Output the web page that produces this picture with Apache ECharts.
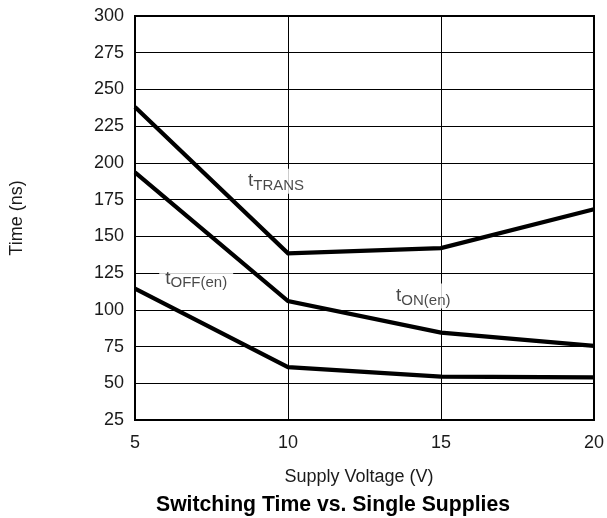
<!DOCTYPE html>
<html>
<head>
<meta charset="utf-8">
<script src="https://cdn.jsdelivr.net/npm/echarts@6/dist/echarts.min.js"></script>
<style>
html,body{margin:0;padding:0;background:#fff;}
#chart{width:607px;height:518px;}
</style>
</head>
<body>
<div id="chart"></div>
<script>
// Supply voltage (V)
var voltages = [5, 10, 15, 20];
// Switching times (ns)
var tTrans = [238, 138.5, 142, 168.5];
var tOnEn = [193.5, 106, 84.5, 75.5];
var tOffEn = [114.5, 61, 54.5, 54];
// Axis ranges
var yMin = 25, yMax = 300, yStep = 25;
var xMin = 5, xMax = 20, xStep = 5;
// Curve labels: [x, y] in data units
var labelNames = ['TRANS', 'OFF(en)', 'ON(en)'];
var labelPos = [[9.61, 187.6], [7.0, 121.3], [14.42, 109.4]];

var FONT = '"Liberation Sans", Arial, Helvetica, sans-serif';
var TXT = '#1a1a1a';

function pairs(ys) {
  return voltages.map(function (v, i) { return [v, ys[i]]; });
}

function lineSeries(name, ys) {
  return {
    name: name,
    type: 'line',
    data: pairs(ys),
    showSymbol: false,
    symbol: 'none',
    lineStyle: { color: '#000', width: 4.2, join: 'miter' },
    z: 3,
    silent: true
  };
}

var chart = echarts.init(document.getElementById('chart'), null, { renderer: 'canvas' });

chart.setOption({
  animation: false,
  backgroundColor: '#fff',
  title: {
    text: 'Switching Time vs. Single Supplies',
    left: 151,
    top: 490,
    textStyle: { fontFamily: FONT, fontSize: 21.2, fontWeight: 'bold', color: '#000' }
  },
  grid: {
    left: 133, right: 10, top: 16, bottom: 98,
    show: true, borderColor: '#000', borderWidth: 2, backgroundColor: 'transparent'
  },
  xAxis: {
    type: 'value',
    min: xMin, max: xMax, interval: xStep,
    name: 'Supply Voltage (V)',
    nameLocation: 'middle',
    nameGap: 48,
    nameTextStyle: { fontFamily: FONT, fontSize: 18, color: TXT, padding: [0, 11, 0, 0] },
    axisLine: { show: false },
    axisTick: { show: false },
    axisLabel: { fontFamily: FONT, fontSize: 18, color: TXT, margin: 14 },
    splitLine: { show: true, lineStyle: { color: '#000', width: 1 } }
  },
  yAxis: {
    type: 'value',
    min: yMin, max: yMax, interval: yStep,
    name: 'Time (ns)',
    nameLocation: 'middle',
    nameGap: 109,
    nameTextStyle: { fontFamily: FONT, fontSize: 18, color: TXT },
    axisLine: { show: false },
    axisTick: { show: false },
    axisLabel: { fontFamily: FONT, fontSize: 18, color: TXT, margin: 11 },
    splitLine: { show: true, lineStyle: { color: '#000', width: 1 } }
  },
  series: [
    lineSeries('tTRANS', tTrans),
    lineSeries('tON(en)', tOnEn),
    lineSeries('tOFF(en)', tOffEn),
    {
      name: 'labels',
      type: 'scatter',
      symbolSize: 0,
      silent: true,
      z: 5,
      data: labelPos.map(function (p, i) { return { value: p, sub: labelNames[i] }; }),
      label: {
        show: true,
        position: 'inside',
        backgroundColor: '#fff',
        padding: [3, 6, 3, 6],
        formatter: function (p) { return '{t|t}{s|' + p.data.sub + '}'; },
        rich: {
          t: { fontFamily: FONT, fontSize: 19, lineHeight: 19, color: TXT },
          s: { fontFamily: FONT, fontSize: 15, lineHeight: 15, padding: [9, 0, 0, 0], color: TXT }
        }
      }
    }
  ]
});
</script>
</body>
</html>
